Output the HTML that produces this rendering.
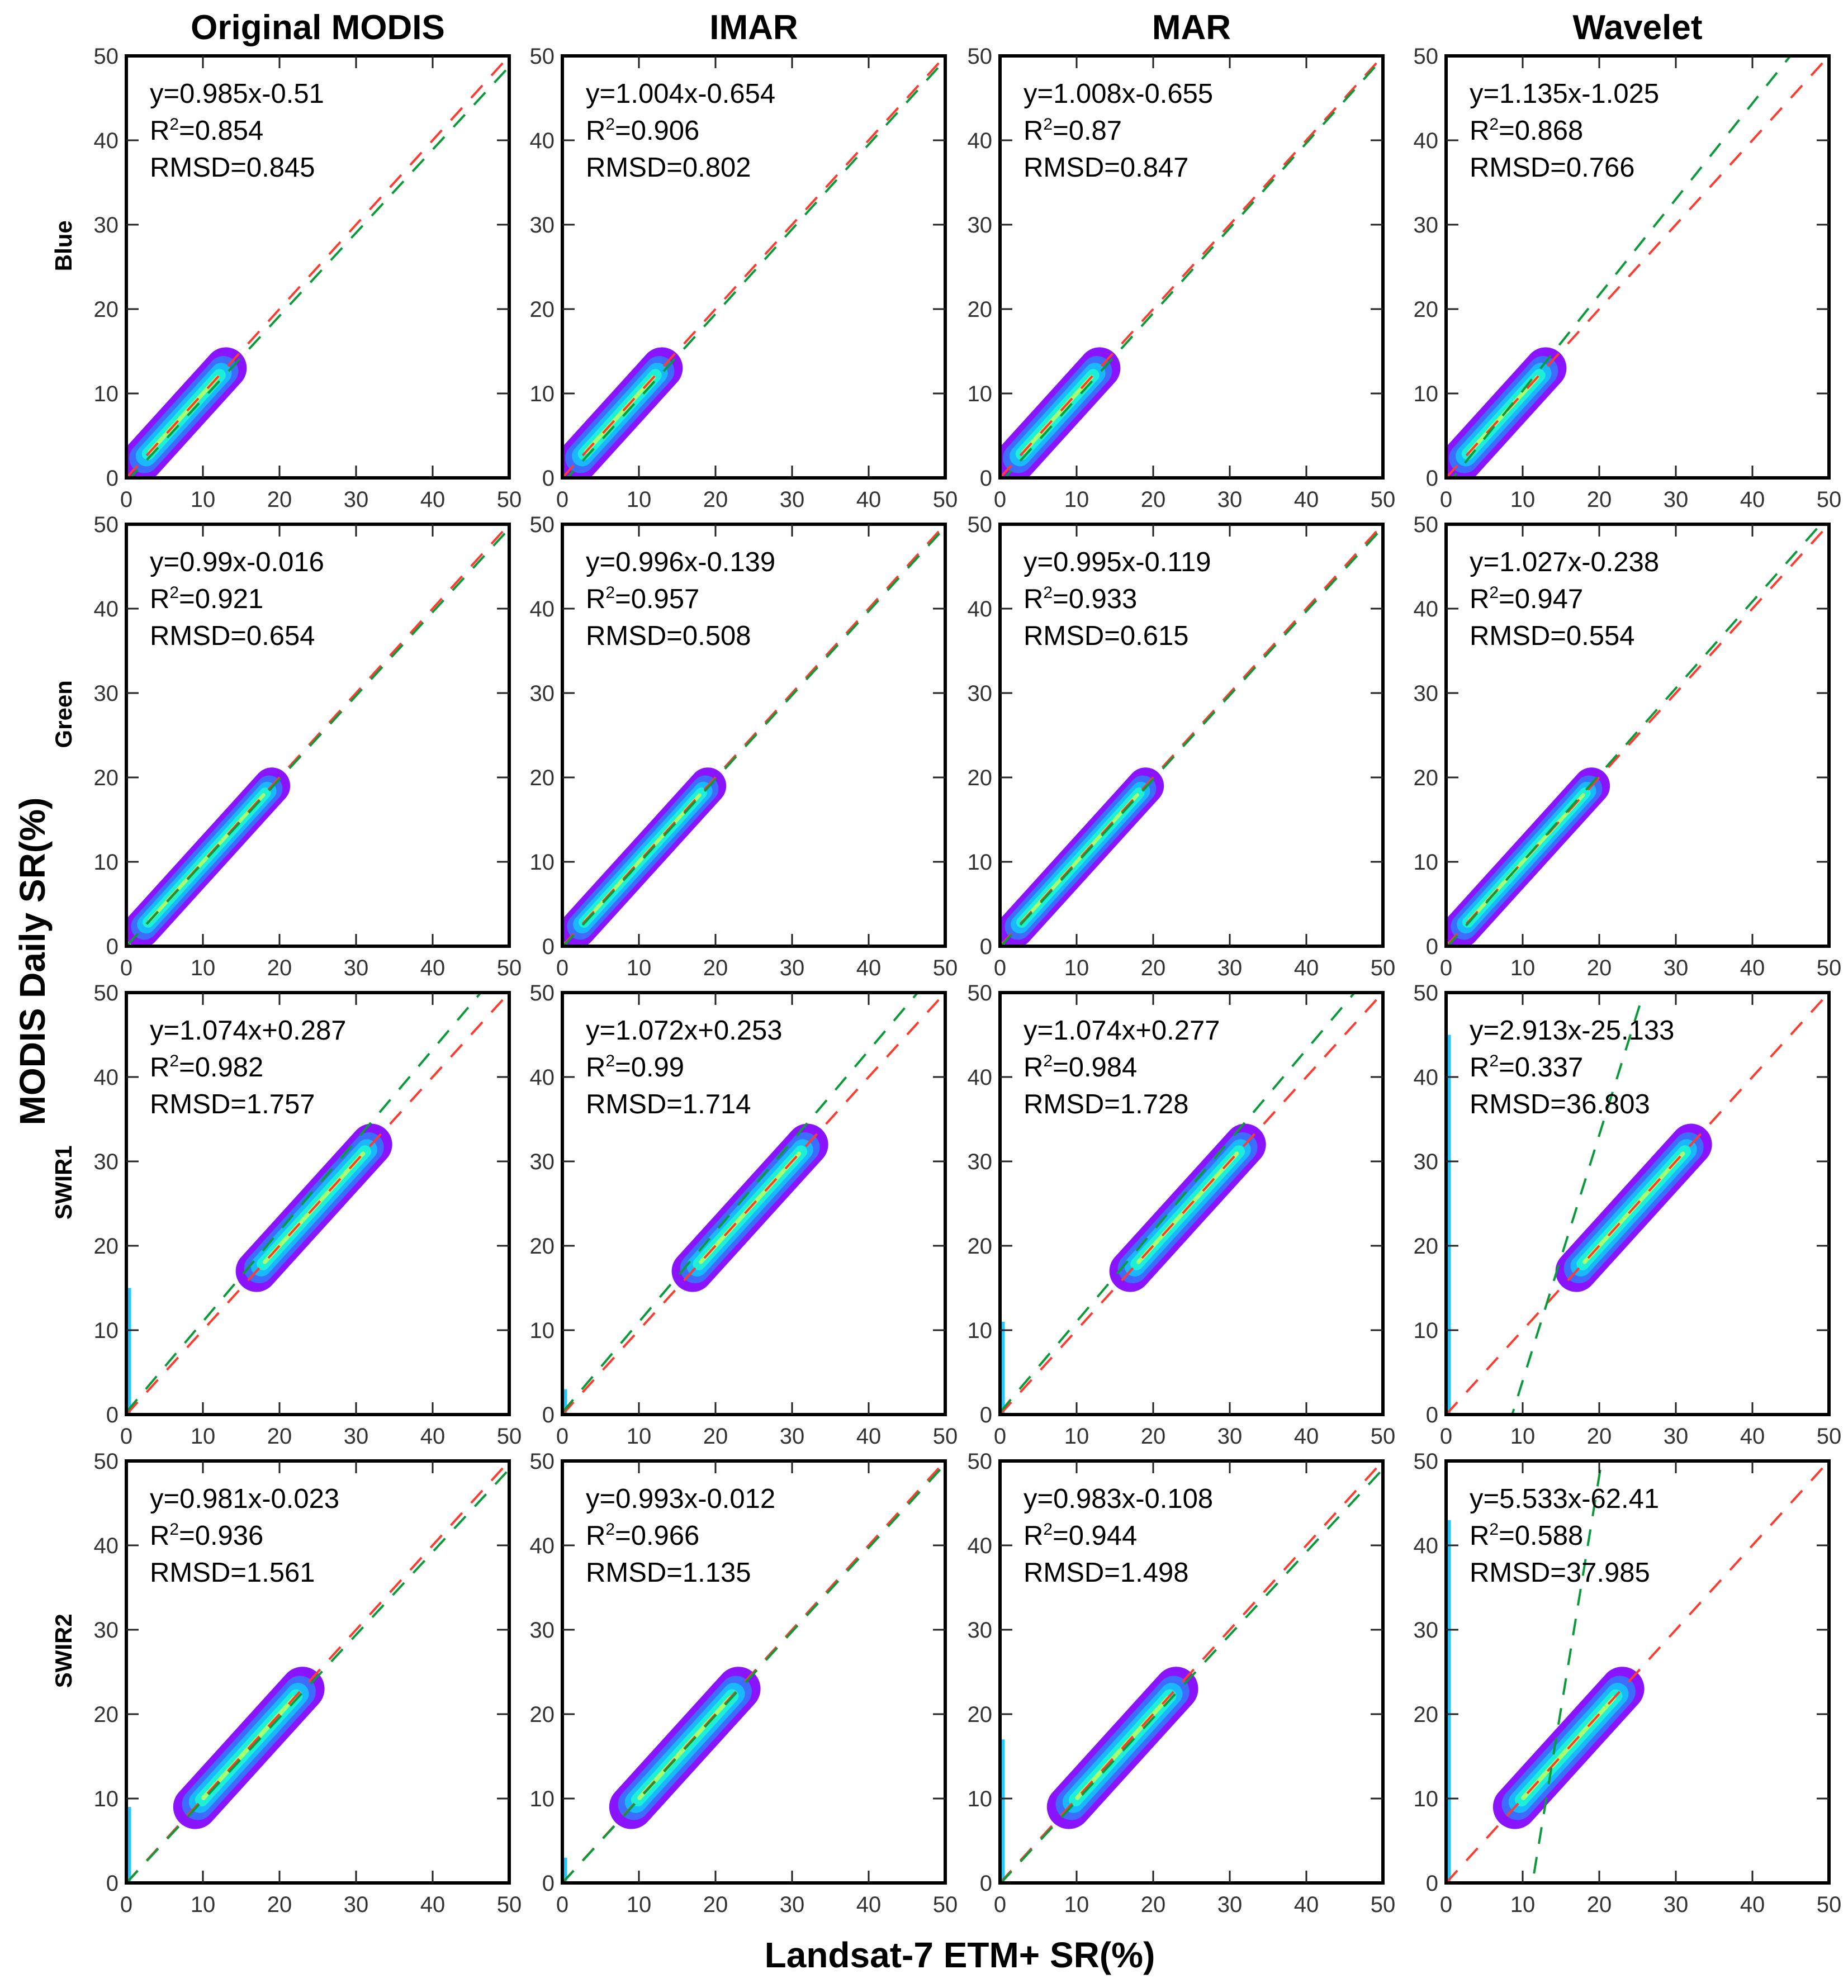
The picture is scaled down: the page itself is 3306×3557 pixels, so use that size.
<!DOCTYPE html>
<html><head><meta charset="utf-8"><style>
html,body{margin:0;padding:0;background:#fff;overflow:hidden;width:3306px;height:3557px;}
svg{display:block;font-family:"Liberation Sans","DejaVu Sans",sans-serif;}
</style></head><body>
<svg id="fig" width="3306" height="3557" viewBox="0 0 3306 3557" xmlns="http://www.w3.org/2000/svg"></svg>
<script>
// ---- data ----
const methods = ["Original MODIS","IMAR","MAR","Wavelet"];
const bands = ["Blue","Green","SWIR1","SWIR2"];
const ticks = [0,10,20,30,40,50];
// regression slopes / intercepts, row-major (band x method)
const slopes = [0.985,1.004,1.008,1.135, 0.99,0.996,0.995,1.027, 1.074,1.072,1.074,2.913, 0.981,0.993,0.983,5.533];
const intercepts = [-0.51,-0.654,-0.655,-1.025, -0.016,-0.139,-0.119,-0.238, 0.287,0.253,0.277,-25.133, -0.023,-0.012,-0.108,-62.41];
const eqText = ["y=0.985x-0.51","y=1.004x-0.654","y=1.008x-0.655","y=1.135x-1.025","y=0.99x-0.016","y=0.996x-0.139","y=0.995x-0.119","y=1.027x-0.238","y=1.074x+0.287","y=1.072x+0.253","y=1.074x+0.277","y=2.913x-25.133","y=0.981x-0.023","y=0.993x-0.012","y=0.983x-0.108","y=5.533x-62.41"];
const r2Text = ["0.854","0.906","0.87","0.868","0.921","0.957","0.933","0.947","0.982","0.99","0.984","0.337","0.936","0.966","0.944","0.588"];
const rmsdText = ["0.845","0.802","0.847","0.766","0.654","0.508","0.615","0.554","1.757","1.714","1.728","36.803","1.561","1.135","1.498","37.985"];
// point cloud extents along 1:1 line, per band
const cloudStart = [2,2,17,9];
const cloudEnd = [13,19,32,23];
const cloudSpread = [3.4,3.0,3.4,3.6];
// vertical strip near x=0 (max y) per panel
const stripTop = [0,0,0,0, 0,0,0,0, 15,3,11,45, 9,3,17,43];

// ---- layout ----
const svg = document.getElementById('fig');
const NS = 'http://www.w3.org/2000/svg';
const colLeft = [226,1006,1789,2587];
const rowTop = [100,938,1776,2614];
const PW = 685, PH = 755;
function el(tag, attrs, parent){const e=document.createElementNS(NS,tag);for(const k in attrs)e.setAttribute(k,attrs[k]);(parent||svg).appendChild(e);return e;}
function txt(s, attrs, parent){const t=el('text',attrs,parent);t.textContent=s;return t;}

methods.forEach((m,c)=>{
  const t=txt(m,{x:colLeft[c]+PW/2,y:70,'text-anchor':'middle','font-size':62,'font-weight':'bold',fill:'#000'});
  
  
});
bands.forEach((b,r)=>{
  const cy=rowTop[r]+PH*0.45;
  const t=txt(b,{x:0,y:0,transform:`translate(128,${cy}) rotate(-90)`,'text-anchor':'middle','font-size':42,'font-weight':'bold',fill:'#000'});
  
  
});
const yt=txt('MODIS Daily SR(%)',{x:0,y:0,transform:'translate(80,1720) rotate(-90)','text-anchor':'middle','font-size':64,'font-weight':'bold',fill:'#000'});


const xt=txt('Landsat-7 ETM+ SR(%)',{x:1717,y:3520,'text-anchor':'middle','font-size':64,'font-weight':'bold',fill:'#000'});



for(let r=0;r<4;r++){for(let c=0;c<4;c++){
  const i=r*4+c, L=colLeft[c], T=rowTop[r];
  const sx=v=>L+v/50*PW, sy=v=>T+PH-v/50*PH;
  const g=el('g',{});
  
  
  const cp=el('clipPath',{id:'cp'+i},g); el('rect',{x:L,y:T,width:PW,height:PH},cp);
  const inner=el('g',{'clip-path':`url(#cp${i})`},g);
  if(stripTop[i]>0){
    const s=el('line',{x1:sx(0)+4,y1:sy(0),x2:sx(0)+4,y2:sy(stripTop[i]),stroke:'#22c8ff','stroke-width':9},inner);
    
    
  }
  const a=cloudStart[r], b=cloudEnd[r], w=cloudSpread[r];
  const layers=[['#8a14ff',1],['#3d6dff',0.72],['#19b8ff',0.5],['#1ef0d8',0.3],['#a8ff70',0.1]];
  layers.forEach(([col,f],k)=>{
    const ext=(1-f)*1.2;
    const ln=el('line',{x1:sx(a+ext),y1:sy(a+ext),x2:sx(b-ext),y2:sy(b-ext),stroke:col,'stroke-width':w*f*PW/50*1.6,'stroke-linecap':'round'},inner);
    
    
  });
  const rl=el('line',{x1:sx(0),y1:sy(0),x2:sx(50),y2:sy(50),stroke:'#ff3b2f','stroke-width':4,'stroke-dasharray':'30 24'},inner);
  
  
  const sl=slopes[i], ic=intercepts[i];
  const gl=el('line',{x1:sx(0),y1:sy(ic),x2:sx(50),y2:sy(sl*50+ic),stroke:'#0a9a3a','stroke-width':4,'stroke-dasharray':'30 24'},inner);
  
  
  const fr=el('rect',{x:L,y:T,width:PW,height:PH,fill:'none',stroke:'#000','stroke-width':6},g);
  
  
  ticks.forEach(v=>{
    if(v>0&&v<50){
      el('line',{x1:sx(v),y1:T+PH,x2:sx(v),y2:T+PH-22,stroke:'#222','stroke-width':3},g);
      el('line',{x1:sx(v),y1:T,x2:sx(v),y2:T+22,stroke:'#222','stroke-width':3},g);
      el('line',{x1:L,y1:sy(v),x2:L+22,y2:sy(v),stroke:'#222','stroke-width':3},g);
      el('line',{x1:L+PW,y1:sy(v),x2:L+PW-22,y2:sy(v),stroke:'#222','stroke-width':3},g);
    }
    const xl=txt(String(v),{x:sx(v),y:T+PH+52,'text-anchor':'middle','font-size':40,fill:'#333'},g);
    
    
    const yl=txt(String(v),{x:L-14,y:sy(v)+14,'text-anchor':'end','font-size':40,fill:'#333'},g);
    
    
  });
  const tx=L+42;
  const e1=txt(eqText[i],{x:tx,y:T+84,'font-size':49,fill:'#000'},g);
  
  
  const e2=txt('',{x:tx,y:T+150,'font-size':49,fill:'#000'},g);
  e2.innerHTML='R<tspan dy="-18" font-size="30">2</tspan><tspan dy="18">='+r2Text[i]+'</tspan>';
  
  
  const e3=txt('RMSD='+rmsdText[i],{x:tx,y:T+216,'font-size':49,fill:'#000'},g);
  
  
}}
</script>
</body></html>
